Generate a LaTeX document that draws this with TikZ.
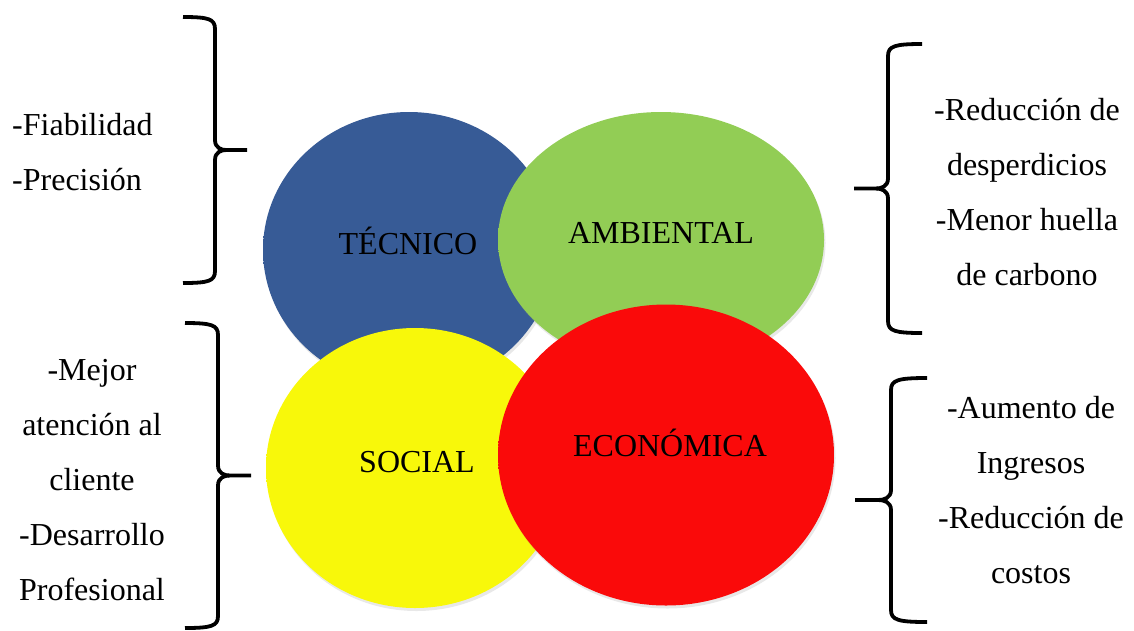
\documentclass[tikz,border=0pt]{standalone}
\usepackage{fontspec}
\setmainfont{Liberation Serif}
\usetikzlibrary{shapes.geometric}
\usetikzlibrary{shadows}
\definecolor{tecblue}{HTML}{375B96}
\definecolor{ambgreen}{HTML}{92CD55}
\definecolor{socyellow}{HTML}{F8F80A}
\definecolor{ecored}{HTML}{FA0A0A}
\pgfdeclareradialshading[orbcol]{orb}{\pgfpoint{0bp}{0bp}}{%
  color(0bp)=(orbcol); color(36bp)=(orbcol); color(46bp)=(orbcol!90!black);
  color(50bp)=(orbcol!72!black)}
\tikzset{
  % A bevelled disc in one colour
  orb/.style={ellipse, inner sep=0pt, shade, shading=orb,
    /utils/exec={\colorlet{orbcol}{#1}},
    drop shadow={opacity=0.18, shadow xshift=1.5pt, shadow yshift=-3pt}},
  % Name written on a disc
  tag/.style={font=\fontsize{32}{38}\selectfont, inner sep=0pt},
  % Notes beside a brace
  side/.style={font=\fontsize{32}{55}\selectfont, inner sep=0pt, align=center},
  % The braces
  curl/.style={draw=black, line width=3.8pt, line join=round},
}
% end x, top y, bottom y, half depth (signed)
\newcommand\curly[4]{%
  \pgfmathsetmacro\cmid{(#2+#3)/2}
  \draw[curl] (#1,#2) .. controls ({#1+0.8*(#4)},#2) and ({#1+(#4)},{#2+2}) .. ({#1+(#4)},{#2+12})
    -- ({#1+(#4)},{\cmid-10}) .. controls ({#1+(#4)},{\cmid-2}) and ({#1+1.2*(#4)},\cmid) .. ({#1+1.35*(#4)},\cmid)
    -- ({#1+2*(#4)},\cmid);
  \draw[curl] ({#1+1.35*(#4)},\cmid) .. controls ({#1+1.2*(#4)},\cmid) and ({#1+(#4)},{\cmid+2}) .. ({#1+(#4)},{\cmid+10})
    -- ({#1+(#4)},{#3-12}) .. controls ({#1+(#4)},{#3-2}) and ({#1+0.8*(#4)},#3) .. (#1,#3);
}

\begin{document}
\begin{tikzpicture}[x=1pt, y=-1pt]
\useasboundingbox (0,0) rectangle (1134,630);

\node[orb=tecblue, minimum width=292, minimum height=276] (tec) at (409,250) {};
\node[orb=ambgreen, minimum width=326, minimum height=256] (amb) at (661,240) {};
\node[orb=socyellow, minimum width=298, minimum height=280] (soc) at (415,468) {};
\node[orb=ecored, minimum width=336, minimum height=301] (eco) at (666,455) {};

\node[tag, anchor=base] (tectxt) at (408,254) {TÉCNICO};
\node[tag, anchor=base] (ambtxt) at (661,243) {AMBIENTAL};
\node[tag, anchor=base] (soctxt) at (417,472) {SOCIAL};
\node[tag, anchor=base] (ecotxt) at (670,456) {ECONÓMICA};

\curly{183}{17}{283}{32}
\curly{185}{323}{628}{33}
\curly{922}{44}{333}{-34}
\curly{927}{378}{622}{-36}

% multi-line notes sit on the baseline of their last line
\node[side, anchor=base west, align=left] (tecnotes) at (12,190) {-Fiabilidad\\-Precisión};
\node[side, anchor=base] (socnotes) at (92,600) {-Mejor\\atención al\\cliente\\-Desarrollo\\Profesional};
\node[side, anchor=base] (ambnotes) at (1027,285) {-Reducción de\\desperdicios\\-Menor huella\\de carbono};
\node[side, anchor=base] (econotes) at (1031,583) {-Aumento de\\Ingresos\\-Reducción de\\costos};

\end{tikzpicture}
\end{document}
